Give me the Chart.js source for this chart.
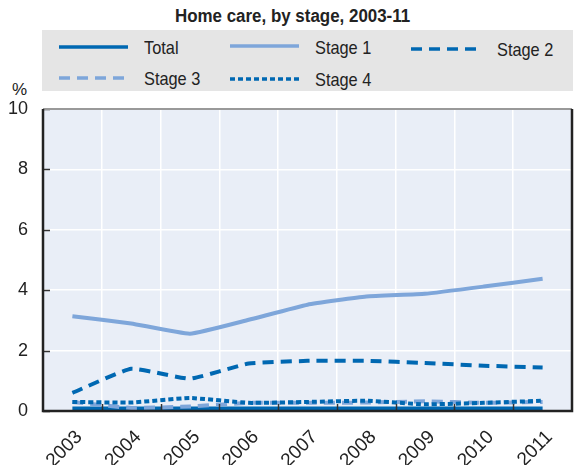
<!DOCTYPE html>
<html>
<head>
<meta charset="utf-8">
<script src="https://cdn.jsdelivr.net/npm/chart.js@4"></script>
<style>
  html, body { margin: 0; padding: 0; background: #fff; }
  body { width: 576px; height: 465px; position: relative; overflow: hidden;
         font-family: 'Liberation Sans', Arial, sans-serif; color: #222; }
  #title { position: absolute; left: 175px; top: 7px; font-weight: bold; font-size: 18px; line-height: 18px;
           white-space: nowrap; transform: scaleX(0.94); transform-origin: left top; }
  #legend { position: absolute; left: 42px; top: 30px; width: 531px; height: 61px; background: #e5e5e5; }
  .sample { position: absolute; }
  .label { position: absolute; font-size: 19px; line-height: 19px; white-space: nowrap;
           transform: scaleX(0.86); transform-origin: left top; }
  #pct { position: absolute; left: 12px; top: 80px; font-size: 17px; }
  canvas { position: absolute; left: 0; top: 0; }
</style>
</head>
<body>
<div id="title">Home care, by stage, 2003-11</div>
<div id="legend"></div>
<div id="pct">%</div>
<canvas id="chart" width="576" height="465"></canvas>
<script>
const YEARS  = ['2003', '2004', '2005', '2006', '2007', '2008', '2009', '2010', '2011'];
const TOTAL  = [0.08, 0.08, 0.08, 0.08, 0.08, 0.08, 0.08, 0.08, 0.08];
const STAGE1 = [3.14, 2.90, 2.56, 3.02, 3.52, 3.79, 3.88, 4.12, 4.38];
const STAGE2 = [0.60, 1.40, 1.07, 1.57, 1.66, 1.66, 1.59, 1.50, 1.44];
const STAGE3 = [0.30, 0.10, 0.15, 0.27, 0.27, 0.28, 0.32, 0.27, 0.30];
const STAGE4 = [0.30, 0.28, 0.43, 0.27, 0.30, 0.34, 0.22, 0.27, 0.34];
const Y_MIN = 0, Y_MAX = 10, Y_STEP = 2;

const DARK = '#0068b2';
const LIGHT = '#7ea6da';
const FONT = "'Liberation Sans', Arial, sans-serif";

// lx/ly: sample line start and centre (legend coords), tx/base: label start and baseline
const SERIES = [
    { label: 'Total',   data: TOTAL,  color: DARK,  dash: [],      lx: 17,  ly: 16.7, tx: 102, base: 24 },
    { label: 'Stage 1', data: STAGE1, color: LIGHT, dash: [],      lx: 188, ly: 16,   tx: 273, base: 24.3 },
    { label: 'Stage 2', data: STAGE2, color: DARK,  dash: [11, 7], lx: 369, ly: 19.3, tx: 455, base: 26 },
    { label: 'Stage 3', data: STAGE3, color: LIGHT, dash: [11, 7], lx: 17,  ly: 48.3, tx: 102, base: 55 },
    { label: 'Stage 4', data: STAGE4, color: DARK,  dash: [5, 3],  lx: 188, ly: 49.3, tx: 273, base: 56 }
];

const legend = document.getElementById('legend');
SERIES.forEach(s => {
    const svg = document.createElementNS('http://www.w3.org/2000/svg', 'svg');
    svg.setAttribute('class', 'sample');
    svg.setAttribute('width', '69');
    svg.setAttribute('height', '6');
    svg.style.left = s.lx + 'px';
    svg.style.top = (s.ly - 3) + 'px';
    svg.innerHTML = `<line x1="0" y1="3" x2="69" y2="3" stroke="${s.color}" stroke-width="3.5" stroke-dasharray="${s.dash.join(' ')}"/>`;
    legend.appendChild(svg);
    const t = document.createElement('div');
    t.className = 'label';
    t.textContent = s.label;
    t.style.left = s.tx + 'px';
    t.style.top = (s.base - 16) + 'px';
    legend.appendChild(t);
});

// plot background, inner tick marks and frame
const framePlugin = {
    id: 'frame',
    beforeDraw(chart) {
        const { ctx, chartArea: a } = chart;
        ctx.save();
        ctx.fillStyle = '#e9eef7';
        ctx.fillRect(a.left, a.top, a.right - a.left, a.bottom - a.top);
        ctx.restore();
    },
    afterDraw(chart) {
        const { ctx, chartArea: a, scales } = chart;
        ctx.save();
        ctx.strokeStyle = '#333';
        ctx.lineWidth = 1.5;
        scales.y.ticks.forEach(t => {
            const y = Math.round(scales.y.getPixelForValue(t.value)) + 0.5;
            ctx.beginPath(); ctx.moveTo(a.left, y); ctx.lineTo(a.left + 7, y); ctx.stroke();
        });
        for (let i = 1; i < YEARS.length; i++) {
            const x = Math.round((scales.x.getPixelForValue(i - 1) + scales.x.getPixelForValue(i)) / 2) + 0.5;
            ctx.beginPath(); ctx.moveTo(x, a.bottom); ctx.lineTo(x, a.bottom - 7); ctx.stroke();
        }
        ctx.strokeStyle = '#999';
        ctx.lineWidth = 2;
        ctx.beginPath(); ctx.moveTo(a.left, a.top); ctx.lineTo(a.right, a.top); ctx.stroke();
        ctx.strokeStyle = '#222';
        ctx.lineWidth = 2.5;
        ctx.beginPath();
        ctx.moveTo(a.left, a.top); ctx.lineTo(a.left, a.bottom);
        ctx.lineTo(a.right, a.bottom); ctx.lineTo(a.right, a.top);
        ctx.stroke();
        ctx.restore();
    }
};

new Chart(document.getElementById('chart'), {
    type: 'line',
    data: {
        labels: YEARS,
        datasets: SERIES.map(s => ({
            label: s.label,
            data: s.data,
            borderColor: s.color,
            backgroundColor: s.color,
            borderDash: s.dash,
            borderWidth: 4,
            pointRadius: 0,
            tension: 0.12,
            fill: false
        })).reverse()
    },
    options: {
        responsive: false,
        animation: false,
        layout: { padding: { left: 0, top: 109, right: 4, bottom: 0 } },
        plugins: { legend: { display: false }, tooltip: { enabled: false } },
        scales: {
            x: {
                offset: true,
                grid: { offset: true, color: '#ffffff', lineWidth: 1.5, drawTicks: false },
                border: { display: false },
                ticks: { color: '#222', font: { family: FONT, size: 19 }, maxRotation: 45, minRotation: 45,
                         autoSkip: false, padding: 15, labelOffset: 7 },
                afterFit: s => { s.height = 54; }
            },
            y: {
                min: Y_MIN, max: Y_MAX,
                grid: { color: '#ffffff', lineWidth: 1.5, drawTicks: false },
                border: { display: false },
                ticks: { stepSize: Y_STEP, color: '#222', font: { family: FONT, size: 18 }, padding: 15 },
                afterFit: s => { s.width = 43; }
            }
        }
    },
    plugins: [framePlugin]
});
</script>
</body>
</html>
